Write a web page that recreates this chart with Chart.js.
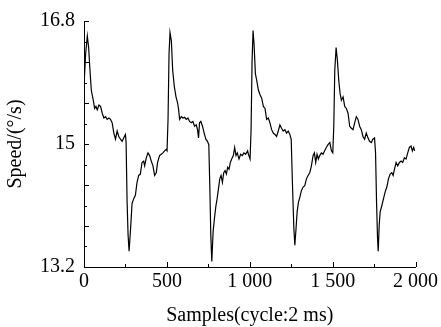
<!DOCTYPE html>
<html>
<head>
<meta charset="utf-8">
<script src="https://cdn.jsdelivr.net/npm/chart.js@4"></script>
<style>
    html, body { margin: 0; padding: 0; background: #fff; }
    #wrap { width: 441px; height: 327px; }
</style>
</head>
<body>
<div id="wrap"><canvas id="speed-chart" width="441" height="327"></canvas></div>
<script>
const samples = [
    0, 10, 20, 28, 36, 44, 56, 64, 72, 80, 90, 100, 110, 120, 130, 140, 150, 160, 170, 180,
    190, 200, 210, 220, 230, 240, 250, 254, 260, 266, 272, 280, 290, 300, 310, 320, 330, 340, 350, 360,
    366, 376, 386, 396, 406, 416, 426, 436, 444, 456, 466, 476, 486, 496,
    501, 507, 513, 519, 527, 535, 545, 555, 565, 571, 577, 587, 597, 607, 617, 627, 637, 647, 657, 667,
    677, 685, 691, 697, 705, 715, 725, 735, 745, 753, 759, 765, 771, 779, 787, 795, 803, 811, 819, 827,
    835, 843, 851, 859, 867, 875, 883, 891, 901, 909, 917, 925, 935, 945, 955, 965, 975, 987,
    992, 1002, 1008, 1014, 1020, 1026, 1034, 1042, 1052, 1062, 1072, 1082, 1092, 1102, 1112, 1122, 1132, 1142,
    1152, 1162, 1172, 1182, 1192, 1202, 1212, 1222, 1232, 1242, 1250, 1258, 1266, 1272, 1278, 1286, 1294, 1302,
    1312, 1322, 1332, 1342, 1352, 1362, 1372, 1382, 1390, 1398, 1406, 1414, 1422, 1432, 1442, 1452, 1462, 1472,
    1483, 1493, 1501, 1507, 1513, 1521, 1529, 1537, 1545, 1553, 1563, 1573, 1583, 1593, 1603, 1613, 1623, 1633,
    1643, 1653, 1663, 1673, 1683, 1693, 1703, 1713, 1723, 1733, 1743, 1753, 1759, 1765, 1771, 1775, 1781, 1787,
    1797, 1807, 1817, 1827, 1837, 1847, 1857, 1865, 1873, 1883, 1893, 1903, 1913, 1923, 1933, 1943, 1953, 1963,
    1973, 1981, 1989, 1995
];

const speeds = [
    15.85, 16.32, 16.58, 16.41, 16.08, 15.79, 15.64, 15.52, 15.55, 15.50, 15.57, 15.55, 15.45, 15.38, 15.40, 15.36, 15.38, 15.36, 15.31, 15.16,
    15.07, 15.19, 15.11, 15.07, 15.04, 15.09, 15.14, 15.02, 14.15, 13.67, 13.43, 13.72, 14.13, 14.20, 14.25, 14.44, 14.54, 14.56, 14.73, 14.75,
    14.68, 14.80, 14.87, 14.83, 14.75, 14.68, 14.54, 14.58, 14.73, 14.83, 14.85, 14.87, 14.90, 14.92,
    14.90, 15.36, 16.32, 16.63, 16.51, 16.08, 15.84, 15.69, 15.60, 15.50, 15.36, 15.40, 15.38, 15.39, 15.36, 15.38, 15.33, 15.31, 15.33, 15.26,
    15.28, 15.21, 15.09, 15.31, 15.33, 15.26, 15.16, 15.07, 15.04, 14.99, 14.39, 13.67, 13.28, 13.72, 13.91, 14.08, 14.20, 14.34, 14.49, 14.54,
    14.44, 14.58, 14.61, 14.56, 14.66, 14.63, 14.73, 14.78, 14.83, 14.95, 14.83, 14.87, 14.78, 14.85, 14.83, 14.87, 14.85, 14.90,
    14.85, 14.78, 15.21, 16.22, 16.66, 16.46, 16.03, 15.93, 15.79, 15.72, 15.67, 15.55, 15.52, 15.36, 15.38, 15.31, 15.21, 15.16,
    15.14, 15.11, 15.19, 15.28, 15.23, 15.19, 15.21, 15.16, 15.19, 15.14, 15.07, 14.39, 13.77, 13.52, 13.72, 14.01, 14.15, 14.22,
    14.32, 14.37, 14.39, 14.49, 14.54, 14.58, 14.68, 14.83, 14.87, 14.73, 14.85, 14.78, 14.83, 14.87, 14.85, 14.90, 14.95, 14.99,
    15.02, 14.90, 14.87, 15.26, 16.08, 16.41, 16.22, 15.93, 15.74, 15.64, 15.69, 15.55, 15.52, 15.45, 15.26, 15.23, 15.21, 15.31,
    15.40, 15.36, 15.26, 15.21, 15.11, 15.07, 15.16, 15.09, 15.04, 15.02, 15.07, 15.09, 14.87, 14.15, 13.62, 13.43, 13.81, 14.01,
    14.10, 14.20, 14.30, 14.37, 14.49, 14.56, 14.58, 14.54, 14.63, 14.73, 14.68, 14.73, 14.75, 14.73, 14.80, 14.78, 14.87, 14.95,
    14.97, 14.90, 14.95, 14.90
];

const xTicks = [0, 500, 1000, 1500, 2000];
const xTickLabels = ['0', '500', '1 000', '1 500', '2 000'];
const yTicks = [13.2, 15, 16.8];
const yTickLabels = ['13.2', '15', '16.8'];

const FONT = 'Liberation Serif, Times New Roman, serif';

// inward tick marks, major + minor, placed with the scales
const innerTicks = {
    id: 'innerTicks',
    afterDatasetsDraw(chart) {
        const { ctx, chartArea, scales: { x, y } } = chart;
        ctx.save();
        ctx.strokeStyle = '#000';
        ctx.lineWidth = 1;
        ctx.beginPath();
        for (let v = 0; v <= 2000; v += 250) {
            const px = Math.round(x.getPixelForValue(v)) + 0.5;
            const len = v % 500 === 0 ? 5 : 3;
            ctx.moveTo(px, chartArea.bottom);
            ctx.lineTo(px, chartArea.bottom - len);
        }
        for (let i = 0; i <= 12; i++) {
            const v = 13.2 + i * 0.3;
            const py = Math.round(y.getPixelForValue(v)) + 0.5;
            const len = i % 2 === 0 ? 5 : 3;
            ctx.moveTo(chartArea.left, py);
            ctx.lineTo(chartArea.left + len, py);
        }
        ctx.stroke();
        ctx.restore();
    }
};

new Chart(document.getElementById('speed-chart'), {
    type: 'line',
    data: {
        datasets: [{
            data: samples.map((s, i) => ({ x: s, y: speeds[i] })),
            borderColor: '#000',
            borderWidth: 1.2,
            pointRadius: 0,
            tension: 0,
            fill: false
        }]
    },
    options: {
        responsive: false,
        animation: false,
        events: [],
        layout: { padding: { top: 18, right: 23, left: 0, bottom: 0 } },
        plugins: { legend: { display: false }, tooltip: { enabled: false } },
        scales: {
            x: {
                type: 'linear',
                min: 0,
                max: 2000,
                afterBuildTicks: s => { s.ticks = xTicks.map(v => ({ value: v })); },
                afterFit: s => { s.height = 60; },
                grid: { display: false, drawTicks: false },
                border: { display: true, color: '#000', width: 1 },
                ticks: {
                    padding: 3,
                    maxRotation: 0,
                    autoSkip: false,
                    color: '#000',
                    font: { family: FONT, size: 20 },
                    callback: (v, i) => xTickLabels[i]
                },
                title: {
                    display: true,
                    text: 'Samples(cycle:2 ms)',
                    color: '#000',
                    font: { family: FONT, size: 20 },
                    padding: { top: 0, bottom: -1 }
                }
            },
            y: {
                type: 'linear',
                min: 13.2,
                max: 16.8,
                afterBuildTicks: s => { s.ticks = yTicks.map(v => ({ value: v })); },
                afterFit: s => { s.width = 84; },
                grid: { display: false, drawTicks: false },
                border: { display: true, color: '#000', width: 1 },
                ticks: {
                    padding: 9,
                    autoSkip: false,
                    color: '#000',
                    font: { family: FONT, size: 20 },
                    callback: (v, i) => yTickLabels[i]
                },
                title: {
                    display: true,
                    text: 'Speed/(°/s)',
                    color: '#000',
                    font: { family: FONT, size: 20 },
                    padding: { top: 4, bottom: 0 }
                }
            }
        }
    },
    plugins: [innerTicks]
});
</script>
</body>
</html>
